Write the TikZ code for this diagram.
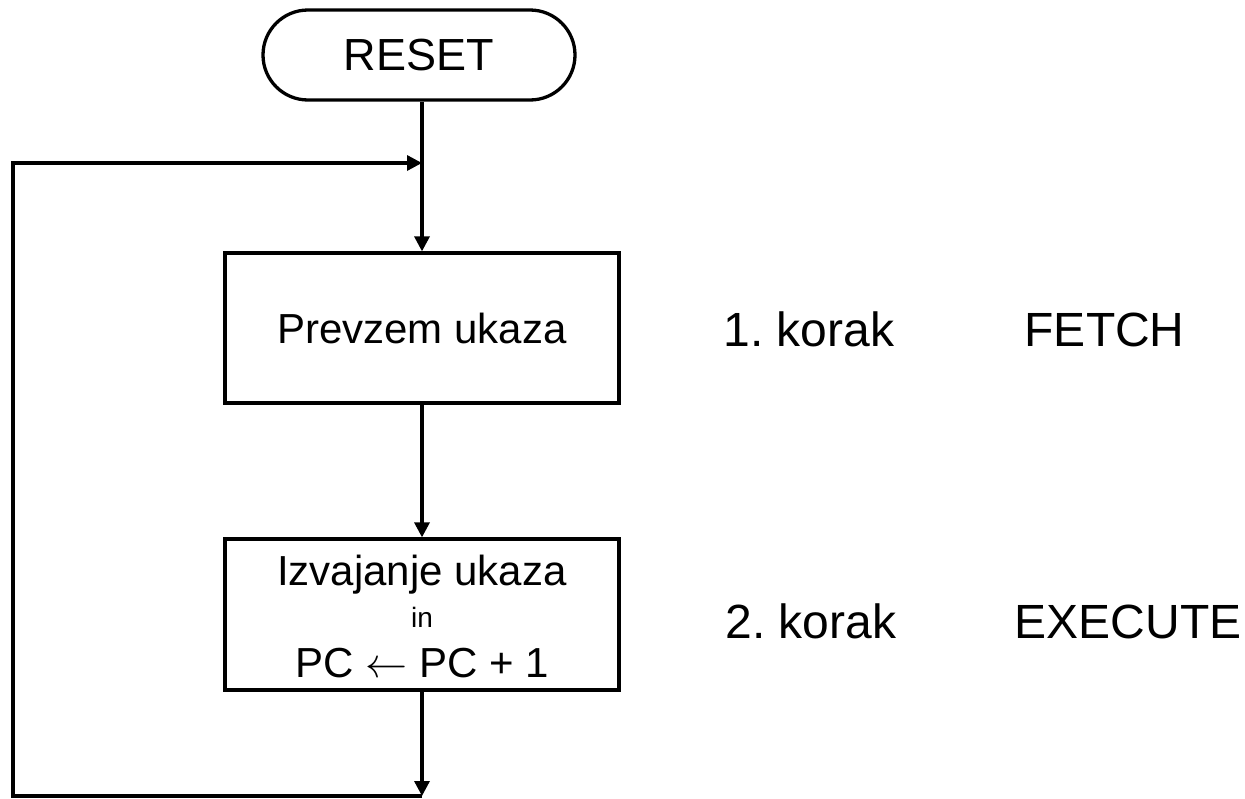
\RequirePackage{fix-cm}
\documentclass[tikz,border=0pt]{standalone}
\usepackage{fontspec}
\setmainfont{Liberation Sans}
\usetikzlibrary{arrows.meta,shapes.misc}
\frenchspacing
\begin{document}
\begin{tikzpicture}[x=1pt,y=-1pt,line width=3.3pt,
  conn/.style={-{Triangle[length=15pt,width=15pt]}},
  proc/.style={draw,rectangle,minimum width=394pt,minimum height=150pt,inner sep=0pt,font=\fontsize{42}{50}\selectfont},
  term/.style={draw,rounded rectangle,minimum width=312pt,minimum height=90pt,inner sep=0pt,font=\fontsize{45}{50}\selectfont},
  boxtext/.style={anchor=base,inner sep=0pt,font=\fontsize{42}{50}\selectfont},
  side/.style={anchor=base west,inner sep=0pt,font=\fontsize{48}{56}\selectfont}]
\useasboundingbox (0,0) rectangle (1245,798);
\node[term] (reset) at (419,55) {RESET};
\node[proc] (fetch) at (422,328) {Prevzem ukaza};
\node[proc,minimum height=151pt] (exec) at (422,614.5) {};
\node[boxtext] (t1) at (422,585) {Izvajanje ukaza};
\node[boxtext,font=\fontsize{28}{32}\selectfont] (t2) at (422,627) {in};
\node[boxtext] (t3) at (422,677) {PC $\leftarrow$ PC + 1};
\node[side] (k1) at (722,346) {1. korak};
\node[side] (f1) at (1023,346) {FETCH};
\node[side] (k2) at (724,638) {2. korak};
\node[side] (e1) at (1013,638) {EXECUTE};
\coordinate (join) at (422,163);
\coordinate (bot) at (422,796);
\coordinate (lb) at (13,796);
\coordinate (lt) at (13,163);
\draw[conn] (reset.south -| fetch.north) -- (fetch.north);
\draw[conn] (fetch.south) -- (exec.north);
\draw[conn] (exec.south) -- (bot);
\draw[conn] (bot) -- (lb) -- (lt) -- (join);
\end{tikzpicture}
\end{document}
